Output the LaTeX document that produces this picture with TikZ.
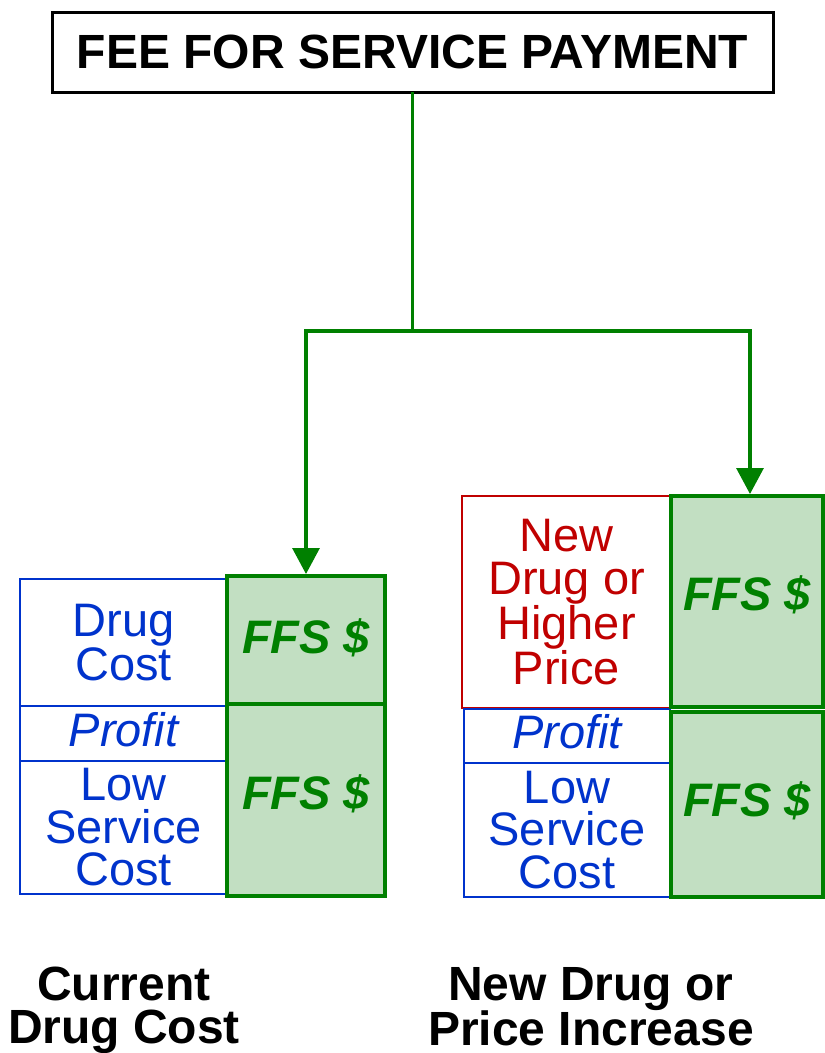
\documentclass[tikz,border=0pt]{standalone}
\usepackage{fontspec}
\setmainfont{Liberation Sans}
\usetikzlibrary{arrows.meta}
\definecolor{ffsgreen}{RGB}{0,128,0}
\definecolor{ffsfill}{RGB}{194,223,194}
\definecolor{costblue}{RGB}{0,51,204}
\definecolor{newred}{RGB}{192,0,0}
\tikzset{
  basebox/.style={draw, inner sep=0pt, outer sep=0pt, anchor=north west, align=center},
  costbox/.style={basebox, draw=costblue, line width=1.5pt, text=costblue,
    font=\fontsize{47}{42.5}\selectfont},
  newbox/.style={costbox, draw=newred, text=newred},
  ffsbox/.style={basebox, draw=ffsgreen, fill=ffsfill, line width=4pt, text=ffsgreen,
    font=\fontsize{47}{47}\selectfont\bfseries\itshape},
  titlebox/.style={basebox, draw=black, line width=3pt,
    font=\fontsize{48}{48}\selectfont\bfseries},
  caption/.style={inner sep=0pt, outer sep=0pt, anchor=north, align=center,
    font=\fontsize{48}{43}\selectfont\bfseries},
  conn/.style={draw=ffsgreen, line width=3.2pt, line join=miter,
    -{Triangle[width=27pt,length=26pt]}}
}
\begin{document}
\begin{tikzpicture}[x=1pt,y=-1pt]
\useasboundingbox (0,0) rectangle (825,1053);

% title
\node[titlebox, minimum width=721pt, minimum height=80pt] (title) at (52,12) {FEE FOR SERVICE PAYMENT};

% left column
\node[costbox, minimum width=207pt, minimum height=127pt] (dcL) at (20,579) {Drug\\Cost};
\node[costbox, minimum width=207pt, minimum height=55pt, text height=26pt, text depth=0pt] (prL) at (20,706) {\itshape Profit};
\node[costbox, minimum width=207pt, minimum height=133pt] (lsL) at (20,761) {Low\\Service\\Cost};
\node[ffsbox, minimum width=158pt, minimum height=128pt, text height=26pt, text depth=0pt] (ffsLt) at (227,576) {FFS \$};
\node[ffsbox, minimum width=158pt, minimum height=192pt, text height=18pt, text depth=0pt] (ffsLb) at (227,704) {FFS \$};

% right column
\node[newbox, minimum width=209pt, minimum height=212pt] (ndR) at (462,496) {New\\Drug or\\Higher\\Price};
\node[costbox, minimum width=206pt, minimum height=54pt, text height=24pt, text depth=0pt] (prR) at (464,709) {\itshape Profit};
\node[costbox, minimum width=206pt, minimum height=134pt] (lsR) at (464,763) {Low\\Service\\Cost};
\node[ffsbox, minimum width=152pt, minimum height=211pt, text height=17pt, text depth=0pt] (ffsRt) at (671,496) {FFS \$};
\node[ffsbox, minimum width=152pt, minimum height=185pt, text height=24pt, text depth=0pt] (ffsRb) at (671,712) {FFS \$};

% connectors
\coordinate (ylev) at (0,331);
\coordinate (split) at (title.south |- ylev);
\coordinate (tipR) at ([xshift=3pt]ffsRt.north);
\draw[conn, shorten >=2pt] (title.south) -- (split) -| (ffsLt.north);
\draw[conn, shorten >=2pt] (split) -| (tipR);

% captions
\node[caption] (capL) at (124,967) {Current\\Drug Cost};
\node[caption] (capR) at (591,967) {New Drug or\\Price Increase};
\end{tikzpicture}
\end{document}
